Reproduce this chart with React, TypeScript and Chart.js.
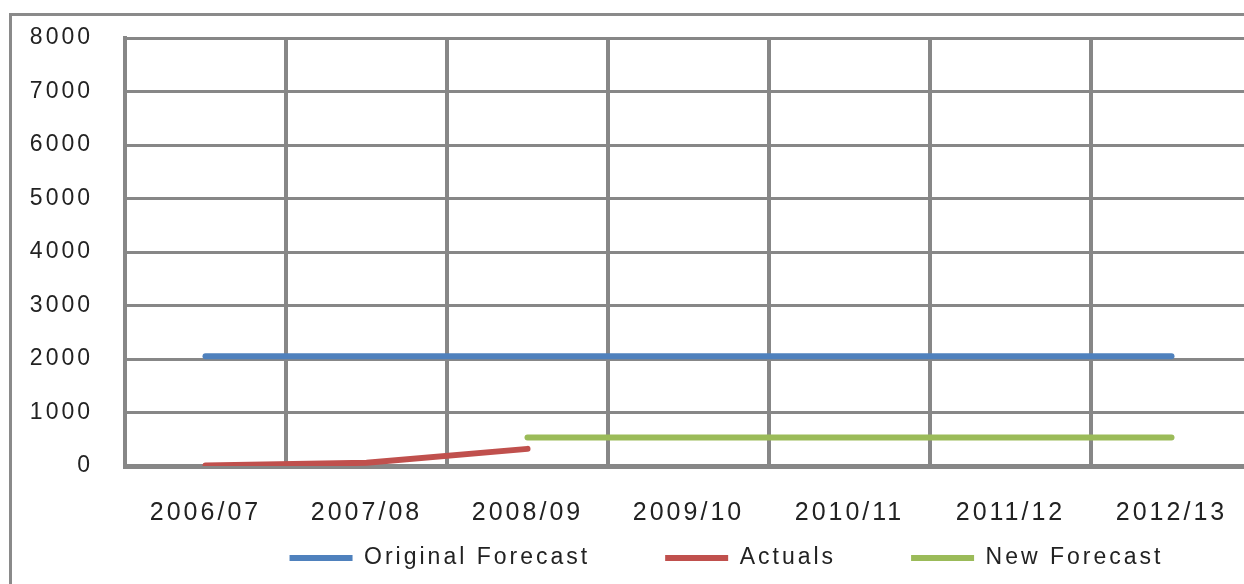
import React, { useEffect, useRef } from "react";
import { Chart, registerables } from "chart.js";

Chart.register(...registerables);

const categories = ["2006/07", "2007/08", "2008/09", "2009/10", "2010/11", "2011/12", "2012/13"];
const originalForecast = [2050, 2050, 2050, 2050, 2050, 2050, 2050];
const actuals = [10, 60, 320, null, null, null, null];
const newForecast = [null, null, 535, 535, 535, 535, 535];
const yMin = 0;
const yMax = 8000;
const yStep = 1000;

const FONT = "'Liberation Sans', Arial, sans-serif";
const GRID = "#878787";
const TEXT = "#222222";

const CANVAS_W = 1453;
const CANVAS_H = 644;
const LEGEND_PADDING = 75;
const LEGEND_FONT = 23;
const LEGEND_CENTER_Y = 558;

const letterSpacingPlugin = {
  id: "letterSpacing",
  beforeLayout(chart: any) {
    (chart.ctx as any).letterSpacing = "3px";
  },
  afterLayout(chart: any) {
    const lg = chart.legend;
    if (lg) {
      const h = lg.height;
      lg.top = LEGEND_CENTER_Y - LEGEND_FONT / 2 - LEGEND_PADDING;
      lg.bottom = lg.top + h;
    }
  },
  beforeDraw(chart: any) {
    (chart.ctx as any).letterSpacing = "3px";
  },
};

export default function App() {
  const canvasRef = useRef<HTMLCanvasElement | null>(null);

  useEffect(() => {
    if (!canvasRef.current) return;
    const chart = new Chart(canvasRef.current, {
      type: "line",
      data: {
        labels: categories,
        datasets: [
          {
            label: "Original Forecast",
            data: originalForecast,
            borderColor: "#4F81BD",
            backgroundColor: "#4F81BD",
            borderWidth: 6,
            borderCapStyle: "round",
            pointRadius: 0,
            tension: 0,
          },
          {
            label: "Actuals",
            data: actuals,
            borderColor: "#C0504D",
            backgroundColor: "#C0504D",
            borderWidth: 6,
            borderCapStyle: "round",
            pointRadius: 0,
            tension: 0,
          },
          {
            label: "New Forecast",
            data: newForecast,
            borderColor: "#9BBB59",
            backgroundColor: "#9BBB59",
            borderWidth: 6,
            borderCapStyle: "round",
            pointRadius: 0,
            tension: 0,
          },
        ],
      },
      options: {
        responsive: false,
        animation: false,
        devicePixelRatio: 1,
        layout: { padding: { top: 38, left: 0, right: 0, bottom: 0 } },
        plugins: {
          tooltip: { enabled: false },
          legend: {
            position: "bottom",
            labels: {
              usePointStyle: true,
              pointStyle: "line",
              pointStyleWidth: 63,
              padding: LEGEND_PADDING,
              color: TEXT,
              font: { family: FONT, size: LEGEND_FONT },
            },
          },
        },
        scales: {
          x: {
            type: "category",
            offset: true,
            grid: { display: true, offset: true, color: GRID, lineWidth: 4, drawTicks: false },
            border: { display: true, color: GRID, width: 5 },
            ticks: {
              autoSkip: false,
              maxRotation: 0,
              padding: 32,
              color: TEXT,
              font: { family: FONT, size: 25 },
            },
            afterFit(scale: any) {
              scale.height = 70;
            },
          },
          y: {
            type: "linear",
            position: "left",
            min: yMin,
            max: yMax,
            grid: { display: true, color: GRID, lineWidth: 3, drawTicks: false },
            border: { display: true, color: GRID, width: 4 },
            ticks: {
              stepSize: yStep,
              padding: 32,
              color: TEXT,
              font: { family: FONT, size: 23 },
              callback: (v: any) => String(v),
            },
            afterFit(scale: any) {
              scale.width = 125;
              scale.paddingTop = 0;
              scale.paddingBottom = 0;
            },
          },
          y2: {
            type: "linear",
            position: "right",
            display: true,
            grid: { display: false },
            border: { display: false },
            ticks: { display: false },
            afterFit(scale: any) {
              scale.width = CANVAS_W - 1252;
              scale.paddingTop = 0;
              scale.paddingBottom = 0;
            },
          },
        },
      },
      plugins: [letterSpacingPlugin],
    } as any);
    return () => chart.destroy();
  }, []);

  return (
    <div
      style={{
        position: "absolute",
        left: 0,
        top: 0,
        width: 1244,
        height: 584,
        overflow: "hidden",
        background: "#ffffff",
      }}
    >
      <div
        style={{
          position: "absolute",
          left: 9,
          top: 13,
          width: 2000,
          height: 1000,
          borderLeft: "3px solid #8a8a8a",
          borderTop: "3px solid #8a8a8a",
          boxSizing: "border-box",
        }}
      />
      <canvas
        ref={canvasRef}
        width={CANVAS_W}
        height={CANVAS_H}
        style={{ position: "absolute", left: 0, top: 0, width: CANVAS_W, height: CANVAS_H }}
      />
    </div>
  );
}
